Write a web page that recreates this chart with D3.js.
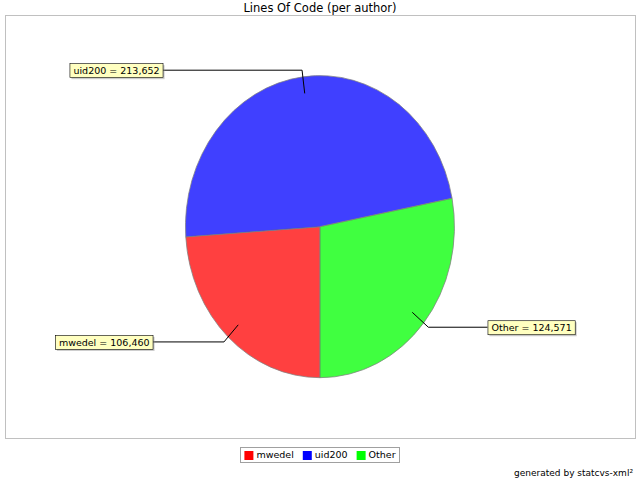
<!DOCTYPE html>
<html>
<head>
<meta charset="utf-8">
<script src="https://cdn.jsdelivr.net/npm/d3@7"></script>
<style>
  body { margin: 0; background: #ffffff; }
  text { font-family: 'DejaVu Sans', sans-serif; }
</style>
</head>
<body>
<div id="vizcont"></div>
<script>
// values
var authors = ["mwedel", "uid200", "Other"];
var lines   = [106460, 213652, 124571];
var colors  = ["#ff0000", "#0000ff", "#00ff00"];

function draw_pie() {
    var width = 640, height = 480;
    var cx = 320, cy = 226.7, rx = 134.5, ry = 151;

    var svg = d3.select("#vizcont")
                .append("svg")
                .attr("width", width)
                .attr("height", height);

    // title
    svg.append("text")
       .attr("x", width / 2)
       .attr("y", 12)
       .attr("text-anchor", "middle")
       .style("font-size", "11.5px")
       .text("Lines Of Code (per author)");

    // plot border
    svg.append("rect")
       .attr("x", 5.5).attr("y", 15.5)
       .attr("width", 630).attr("height", 423)
       .attr("fill", "none")
       .attr("stroke", "#c0c0c0");

    var data = authors.map(function(a, i) { return {name: a, value: lines[i], color: colors[i]}; });

    var pie = d3.pie()
                .sort(null)
                .value(function(d) { return d.value; })
                .startAngle(Math.PI)
                .endAngle(3 * Math.PI);
    var arcs = pie(data);

    var arc = d3.arc().innerRadius(0).outerRadius(1);

    var g = svg.append("g")
               .attr("transform", "translate(" + cx + "," + cy + ") scale(" + rx + "," + ry + ")");

    g.selectAll("path")
     .data(arcs)
     .enter()
     .append("path")
     .attr("d", arc)
     .attr("fill", function(d) { return d.data.color; })
     .attr("fill-opacity", 0.75)
     .attr("stroke", "#808080")
     .attr("stroke-opacity", 0.75)
     .attr("stroke-width", 1)
     .attr("vector-effect", "non-scaling-stroke");

    // labels with leader lines
    var fmt = d3.format(",");
    var labelNudge = [0, 10, 0];   // uid200 label sits a bit further in
    function pt(a, k) {
        return [cx + rx * k * Math.sin(a), cy - ry * k * Math.cos(a)];
    }

    var gl = svg.append("g");
    arcs.forEach(function(d, i) {
        var mid = (d.startAngle + d.endAngle) / 2;
        var left = Math.sin(mid) < 0;
        var p0 = pt(mid, 0.89);
        var p1 = pt(mid, 1.045);
        var edgeX = left ? cx - rx * 1.245 + labelNudge[i] : cx + rx * 1.245 - labelNudge[i];

        gl.append("polyline")
          .attr("points", [p0, p1, [edgeX, p1[1]]].map(function(p) { return p.join(","); }).join(" "))
          .attr("fill", "none")
          .attr("stroke", "#000000")
          .style("stroke-width", "1px");

        var lbl = gl.append("g");
        var t = lbl.append("text")
                   .style("font-size", "9.5px")
                   .attr("dy", "0.35em")
                   .text(d.data.name + " = " + fmt(d.data.value));
        var w = t.node().getComputedTextLength() + 7;
        var h = 14;
        var bx = left ? edgeX - w : edgeX;
        var by = p1[1] - h / 2;

        lbl.insert("rect", "text")
           .attr("x", bx + 2).attr("y", by + 2)
           .attr("width", w).attr("height", h)
           .attr("fill", "#979797").attr("fill-opacity", 0.5);
        lbl.insert("rect", "text")
           .attr("x", bx + 0.5).attr("y", by + 0.5)
           .attr("width", w).attr("height", h)
           .attr("fill", "#ffffc0")
           .attr("stroke", "#000000")
           .attr("stroke-width", 0.6);
        t.attr("x", bx + 4).attr("y", p1[1] + 0.5);
    });

    // legend
    var lg = svg.append("g");
    var items = [];
    var xpos = 0;
    data.forEach(function(d) {
        var it = lg.append("g").attr("transform", "translate(" + xpos + ",0)");
        it.append("rect")
          .attr("x", 0).attr("y", -4)
          .attr("width", 9).attr("height", 9)
          .attr("fill", d.color);
        var tt = it.append("text")
                   .attr("x", 12).attr("dy", "0.35em")
                   .style("font-size", "9.5px")
                   .text(d.name);
        xpos += 12 + tt.node().getComputedTextLength() + 9;
        items.push(it);
    });
    var lw = xpos - 9 + 8;
    var lx = width / 2 - lw / 2;
    lg.attr("transform", "translate(" + (lx + 4) + ",455)");
    svg.insert("rect", "g")
       .attr("x", Math.round(lx) + 0.5).attr("y", 447.5)
       .attr("width", Math.round(lw)).attr("height", 15)
       .attr("fill", "#ffffff")
       .attr("stroke", "#a0a0a0");

    // footer
    svg.append("text")
       .attr("x", 633)
       .attr("y", 476)
       .attr("text-anchor", "end")
       .style("font-size", "9px")
       .text("generated by statcvs-xml\u00b2");
}

draw_pie();
</script>
</body>
</html>
